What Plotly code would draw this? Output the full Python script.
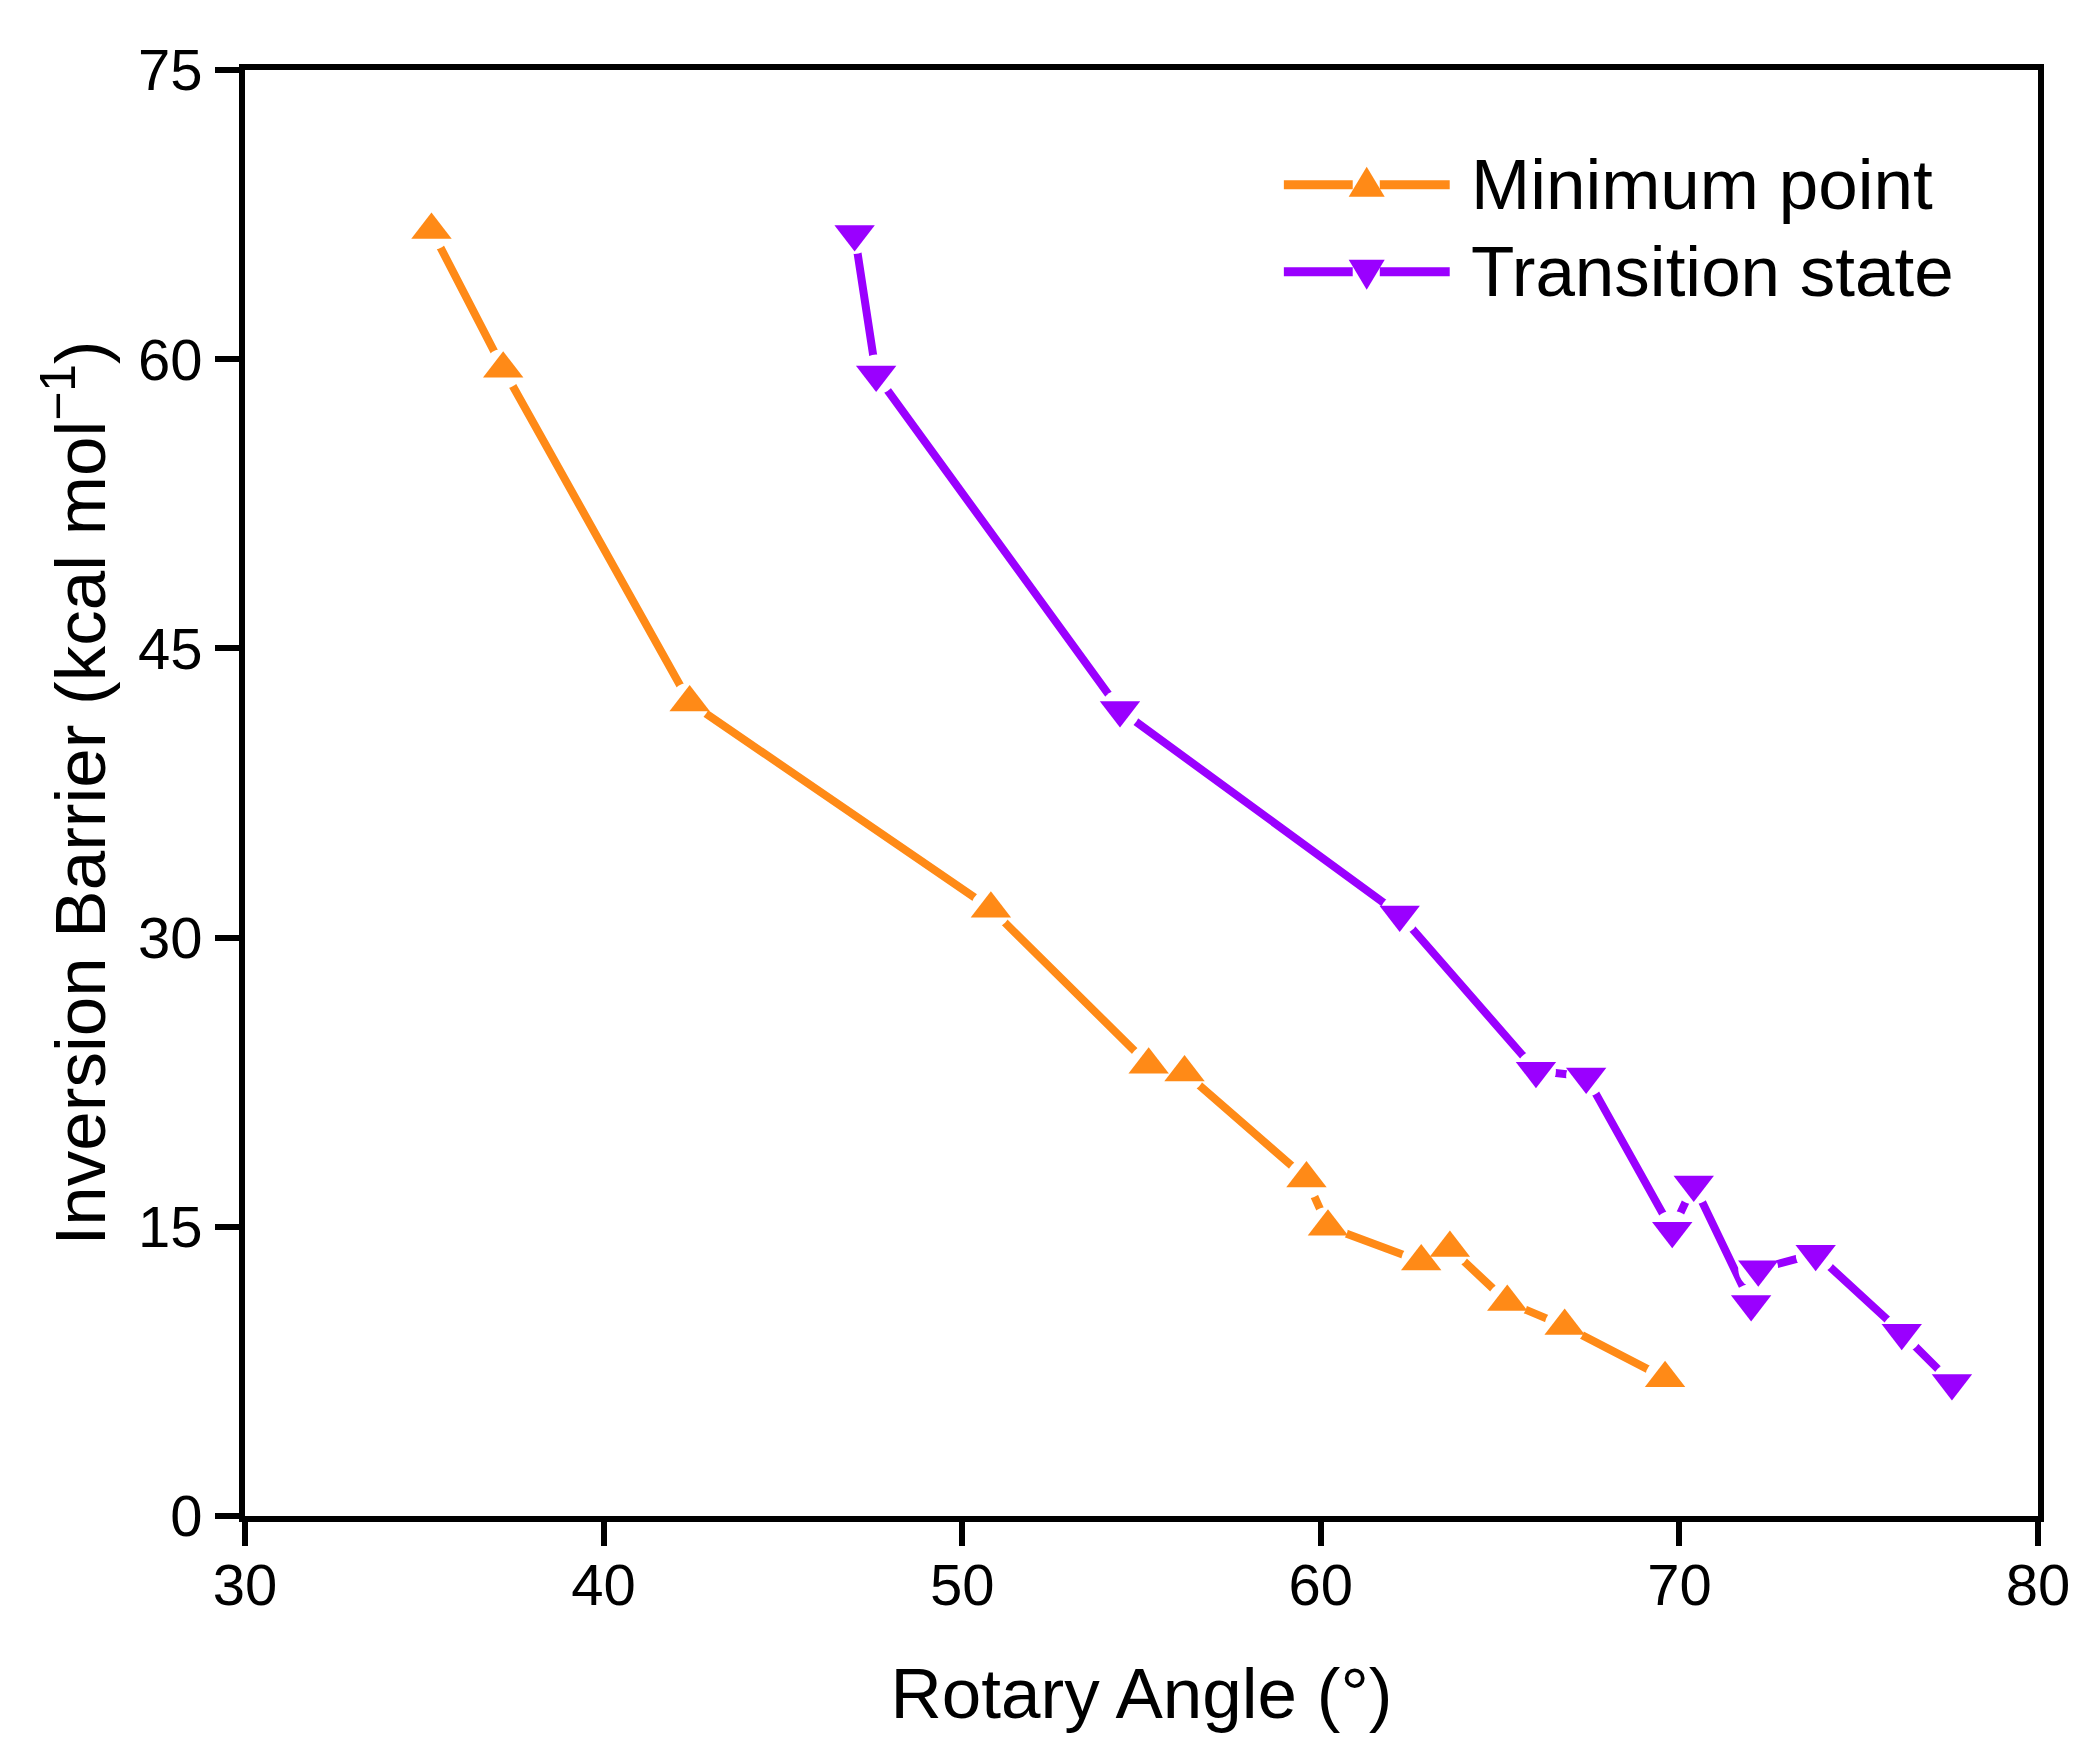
import plotly.graph_objects as go

# Minimum point (orange, up triangles)
min_angle = [35.2, 37.2, 42.4, 50.8, 55.2, 56.2, 59.6, 60.2, 62.8, 63.6, 65.2, 66.8, 69.6]
min_barrier = [66.7, 59.5, 42.2, 31.5, 23.4, 23.0, 17.5, 15.0, 13.2, 13.9, 11.1, 9.85, 7.15]

# Transition state (purple, down triangles)
ts_angle = [47.0, 47.6, 54.4, 62.2, 66.0, 67.4, 69.8, 70.4, 72.0, 72.2, 73.8, 76.2, 77.6]
ts_barrier = [66.5, 59.2, 41.8, 31.2, 23.1, 22.8, 14.8, 17.2, 11.0, 12.8, 13.6, 9.5, 6.9]

x_ticks = [30, 40, 50, 60, 70, 80]
y_ticks = [0, 15, 30, 45, 60, 75]

series_names = ["Minimum point", "Transition state"]
ORANGE = "#FF8A17"
PURPLE = "#9A00FF"
FONT = "Liberation Sans, Arial, sans-serif"
MS = 35

fig = go.Figure()
series = [
    (min_angle, min_barrier, ORANGE, "triangle-up", series_names[0]),
    (ts_angle, ts_barrier, PURPLE, "triangle-down", series_names[1]),
]
# lines
for x, y, c, sym, name in series:
    fig.add_trace(go.Scatter(x=x, y=y, mode="lines", line=dict(color=c, width=8),
                             showlegend=False, hoverinfo="skip"))
# white halos for the gap effect
for x, y, c, sym, name in series:
    fig.add_trace(go.Scatter(x=x, y=y, mode="markers",
                             marker=dict(symbol="circle", size=40, color="white"),
                             showlegend=False, hoverinfo="skip"))
# markers
for x, y, c, sym, name in series:
    fig.add_trace(go.Scatter(x=x, y=y, mode="markers", name=name,
                             marker=dict(symbol=sym, size=MS, color=c),
                             showlegend=False))

# custom legend
shapes = []
annotations = []
rows = [0.9206, 0.8605]
for (x, y, c, sym, name), ry in zip(series, rows):
    shapes.append(dict(type="line", xref="paper", yref="paper", x0=0.5794, x1=0.6178,
                       y0=ry, y1=ry, line=dict(color=c, width=9)))
    shapes.append(dict(type="line", xref="paper", yref="paper", x0=0.6329, x1=0.6719,
                       y0=ry, y1=ry, line=dict(color=c, width=9)))
    if sym == "triangle-up":
        path = "M-18,-12 L18,-12 L0,18 Z"
    else:
        path = "M-18,12 L18,12 L0,-18 Z"
    shapes.append(dict(type="path", xref="paper", yref="paper", xsizemode="pixel",
                       ysizemode="pixel", xanchor=0.6256, yanchor=ry, path=path,
                       fillcolor=c, line=dict(width=0)))
    annotations.append(dict(xref="paper", yref="paper", x=0.6825, y=ry, text=name,
                            showarrow=False, xanchor="left", yanchor="middle",
                            font=dict(family=FONT, size=71, color="black")))

fig.update_layout(
    width=2100, height=1764,
    margin=dict(l=237, r=70, t=62, b=256),
    paper_bgcolor="white", plot_bgcolor="white",
    font=dict(family=FONT, color="black"),
    shapes=shapes, annotations=annotations,
    showlegend=False,
)
fig.update_xaxes(range=[30, 80], tickvals=x_ticks, ticktext=[str(v) for v in x_ticks],
                 showline=True, linecolor="black", linewidth=6, mirror=True,
                 ticks="outside", ticklen=24, tickwidth=6, tickcolor="black",
                 showgrid=False, zeroline=False, tickfont=dict(size=58),
                 ticklabelstandoff=-11,
                 title=dict(text="Rotary Angle (°)", font=dict(size=71), standoff=55))
fig.update_yaxes(range=[0, 75], tickvals=y_ticks, ticktext=[str(v) for v in y_ticks],
                 showline=True, linecolor="black", linewidth=6, mirror=True,
                 ticks="outside", ticklen=24, tickwidth=6, tickcolor="black",
                 showgrid=False, zeroline=False, tickfont=dict(size=58),
                 ticklabelstandoff=1,
                 title=dict(text="Inversion Barrier (kcal mol<sup>−1</sup>)",
                            font=dict(size=71), standoff=11))

fig.write_html("out.html")
